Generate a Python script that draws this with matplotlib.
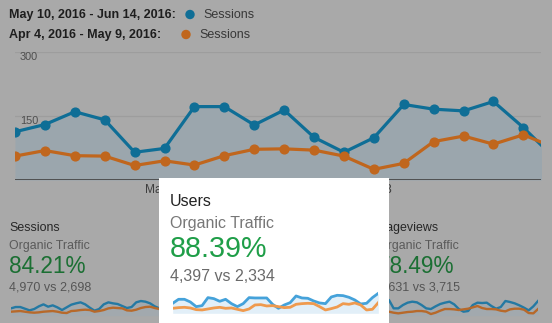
import matplotlib
matplotlib.use("Agg")
import matplotlib.pyplot as plt
from matplotlib.patches import Rectangle, Circle

plt.rcParams["font.family"] = ["Liberation Sans", "DejaVu Sans"]

W, H = 552, 323

# ---- legend ----
current_label = "May 10, 2016 - Jun 14, 2016:"
previous_label = "Apr 4, 2016 - May 9, 2016:"
metric_name = "Sessions"

# ---- main chart: sessions every 2 days ----
sessions_current = [113, 130, 160, 141, 65, 74, 172, 172, 129, 164,
                    100, 65, 99, 177, 166, 162, 184, 123, 54]
sessions_previous = [56, 69, 57, 56, 34, 45, 35, 57, 72, 73,
                     70, 56, 25, 39, 90, 103, 84, 106, 77]
y_tick_values = [150, 300]
x_tick_positions = [5, 12]
x_tick_labels = ["May 20", "June 3"]

# ---- scorecards ----
card_titles = ["Sessions", "Users", "Pageviews"]
card_segment = "Organic Traffic"
card_changes = ["84.21%", "88.39%", "78.49%"]
card_compare = ["4,970 vs 2,698", "4,397 vs 2,334", "6,631 vs 3,715"]

# daily sparkline values
spark_sessions_cur = [22, 26, 26, 21, 16, 20, 28, 34, 27, 31, 25, 17, 25, 33, 37, 40, 34, 24,
                      15, 20, 34, 40, 37, 35, 29, 23, 26, 40, 44, 42, 37, 28, 22, 20, 26, 30]
spark_sessions_prev = [12, 13, 14, 12, 10, 9, 10, 12, 13, 14, 12, 9, 8, 14, 15, 17, 18, 17,
                       12, 14, 17, 22, 24, 23, 22, 16, 15, 18, 23, 26, 27, 23, 20, 17, 18, 20]
spark_users_cur = [30, 42, 42, 34, 20, 23, 47, 44, 36, 42, 29, 20, 29, 47, 46, 46, 46, 27,
                   15, 25, 32, 52, 46, 45, 37, 31, 29, 49, 54, 53, 48, 40, 28, 30, 47, 60]
spark_users_prev = [15, 17, 18, 16, 11, 10, 13, 16, 18, 15, 16, 12, 8, 13, 25, 26, 22, 23,
                    20, 17, 18, 27, 29, 30, 29, 20, 10, 14, 19, 29, 27, 31, 25, 10, 12, 32]
spark_pages_cur = [32, 37, 42, 47, 22, 22, 32, 39, 42, 40, 32, 22, 20, 28, 35, 39, 42, 34,
                   20, 12, 14, 32, 39, 38, 39, 29, 21, 26, 44, 41, 37, 31, 24, 16, 28, 44]
spark_pages_prev = [14, 13, 12, 12, 9, 7, 9, 11, 12, 14, 14, 12, 5, 9, 15, 20, 20, 19,
                    17, 19, 21, 25, 29, 23, 20, 20, 19, 15, 13, 19, 21, 21, 18, 8, 7, 20]

# ---- colours (dimmed page) ----
BG = "#a9a9a9"
BLUE_D = "#0f6e96"
ORANGE_D = "#c0661d"
FILL_D = "#9ba6ad"
GRID_D = "#9d9d9d"
AXIS_D = "#4a4a4a"
SPARK_BLUE_D = "#2479a3"
SPARK_ORANGE_D = "#b7692a"
SPARK_FILL_D = "#a2a9ae"
# highlighted card
BLUE = "#45a2da"
ORANGE = "#ef9a4e"
FILL = "#e2eff8"

fig = plt.figure(figsize=(W / 100, H / 100), dpi=100, facecolor=BG)


def px_axes(x0, y0, x1, y1, z):
    ax = fig.add_axes([x0 / W, 1 - y1 / H, (x1 - x0) / W, (y1 - y0) / H])
    ax.set_zorder(z)
    ax.patch.set_visible(False)
    ax.axis("off")
    return ax


# pixel-space layer for page text
bg = px_axes(0, 0, W, H, 0)
bg.set_xlim(0, W)
bg.set_ylim(H, 0)

bg.text(9, 18.3, current_label, fontsize=9.0, fontweight="bold", color="#1e1e1e", va="baseline")
bg.text(9, 38.3, previous_label, fontsize=9.0, fontweight="bold", color="#1e1e1e", va="baseline")
bg.add_patch(Circle((190, 14.5), 4, color=BLUE_D))
bg.add_patch(Circle((186, 34.5), 4, color=ORANGE_D))
bg.text(203, 18.3, metric_name, fontsize=9.0, color="#383838", va="baseline")
bg.text(199, 38.3, metric_name, fontsize=9.0, color="#383838", va="baseline")

# ---- main line chart ----
ax = px_axes(15, 52, 541, 180, 1)
ax.set_xlim(0, 17.59)
ax.set_ylim(0, 300)
xs = list(range(len(sessions_current)))
for v in y_tick_values:
    ax.axhline(v, color=GRID_D, lw=0.9, zorder=1)
ax.fill_between(xs, sessions_current, 0, color=FILL_D, zorder=2, lw=0)
ax.plot(xs, sessions_current, color=BLUE_D, lw=2.3, marker="o", ms=6.3, zorder=4)
ax.plot(xs, sessions_previous, color=ORANGE_D, lw=2.3, marker="o", ms=6.3, zorder=5)
ax.axhline(0, color=AXIS_D, lw=1.3, zorder=6)
for v in y_tick_values:
    ax.annotate(str(v), xy=(0, v), xycoords=("axes fraction", "data"),
                xytext=(5, -8), textcoords="offset pixels",
                fontsize=7.8, color="#4e4e4e", va="baseline", zorder=3)
for p, lab in zip(x_tick_positions, x_tick_labels):
    ax.annotate(lab, xy=(p, 0), xycoords="data", xytext=(0, -13),
                textcoords="offset pixels", fontsize=8.6, color="#3e3e3e",
                ha="center", va="baseline", annotation_clip=False)


# ---- scorecards (dimmed) ----
def scorecard(layer, x, baselines, sizes, colors, i):
    texts = [card_titles[i], card_segment, card_changes[i], card_compare[i]]
    for t, yb, s, c in zip(texts, baselines, sizes, colors):
        layer.text(x, yb, t, fontsize=s, color=c, va="baseline")


def sparkline(box, cur, prev, top, z, cb, co, cf, lw):
    sax = px_axes(*box, z)
    sx = list(range(len(cur)))
    sax.set_xlim(0, len(cur) - 1)
    sax.set_ylim(0, top)
    sax.fill_between(sx, cur, 0, color=cf, lw=0)
    sax.plot(sx, cur, color=cb, lw=lw, solid_joinstyle="round")
    sax.plot(range(len(prev)), prev, color=co, lw=lw, solid_joinstyle="round")


dim_sizes = [8.9, 8.9, 16.3, 9.0]
dim_colors = ["#262626", "#5a5a5a", "#1b6f33", "#555555"]
dim_base = [231, 249, 272.7, 290]
scorecard(bg, 9, dim_base, dim_sizes, dim_colors, 0)
scorecard(bg, 378, dim_base, dim_sizes, dim_colors, 2)
sparkline((11, 290, 173.3, 315.7), spark_sessions_cur, spark_sessions_prev, 77, 1,
          SPARK_BLUE_D, SPARK_ORANGE_D, SPARK_FILL_D, 1.7)
sparkline((375, 290, 538, 315.7), spark_pages_cur, spark_pages_prev, 77, 1,
          SPARK_BLUE_D, SPARK_ORANGE_D, SPARK_FILL_D, 1.7)

# ---- highlighted card ----
card = px_axes(0, 0, W, H, 10)
card.set_xlim(0, W)
card.set_ylim(H, 0)
card.add_patch(Rectangle((159, 178), 230, 150, facecolor="white", edgecolor="none"))
scorecard(card, 170, [206, 227.7, 256.7, 281], [11.5, 11.5, 20.7, 11.5],
          ["#222222", "#777777", "#1f9e48", "#6a6a6a"], 1)
sparkline((172.7, 283.3, 378.3, 313.3), spark_users_cur, spark_users_prev, 90, 11,
          BLUE, ORANGE, FILL, 2.0)

fig.savefig("out.png", dpi=100, facecolor=BG)
